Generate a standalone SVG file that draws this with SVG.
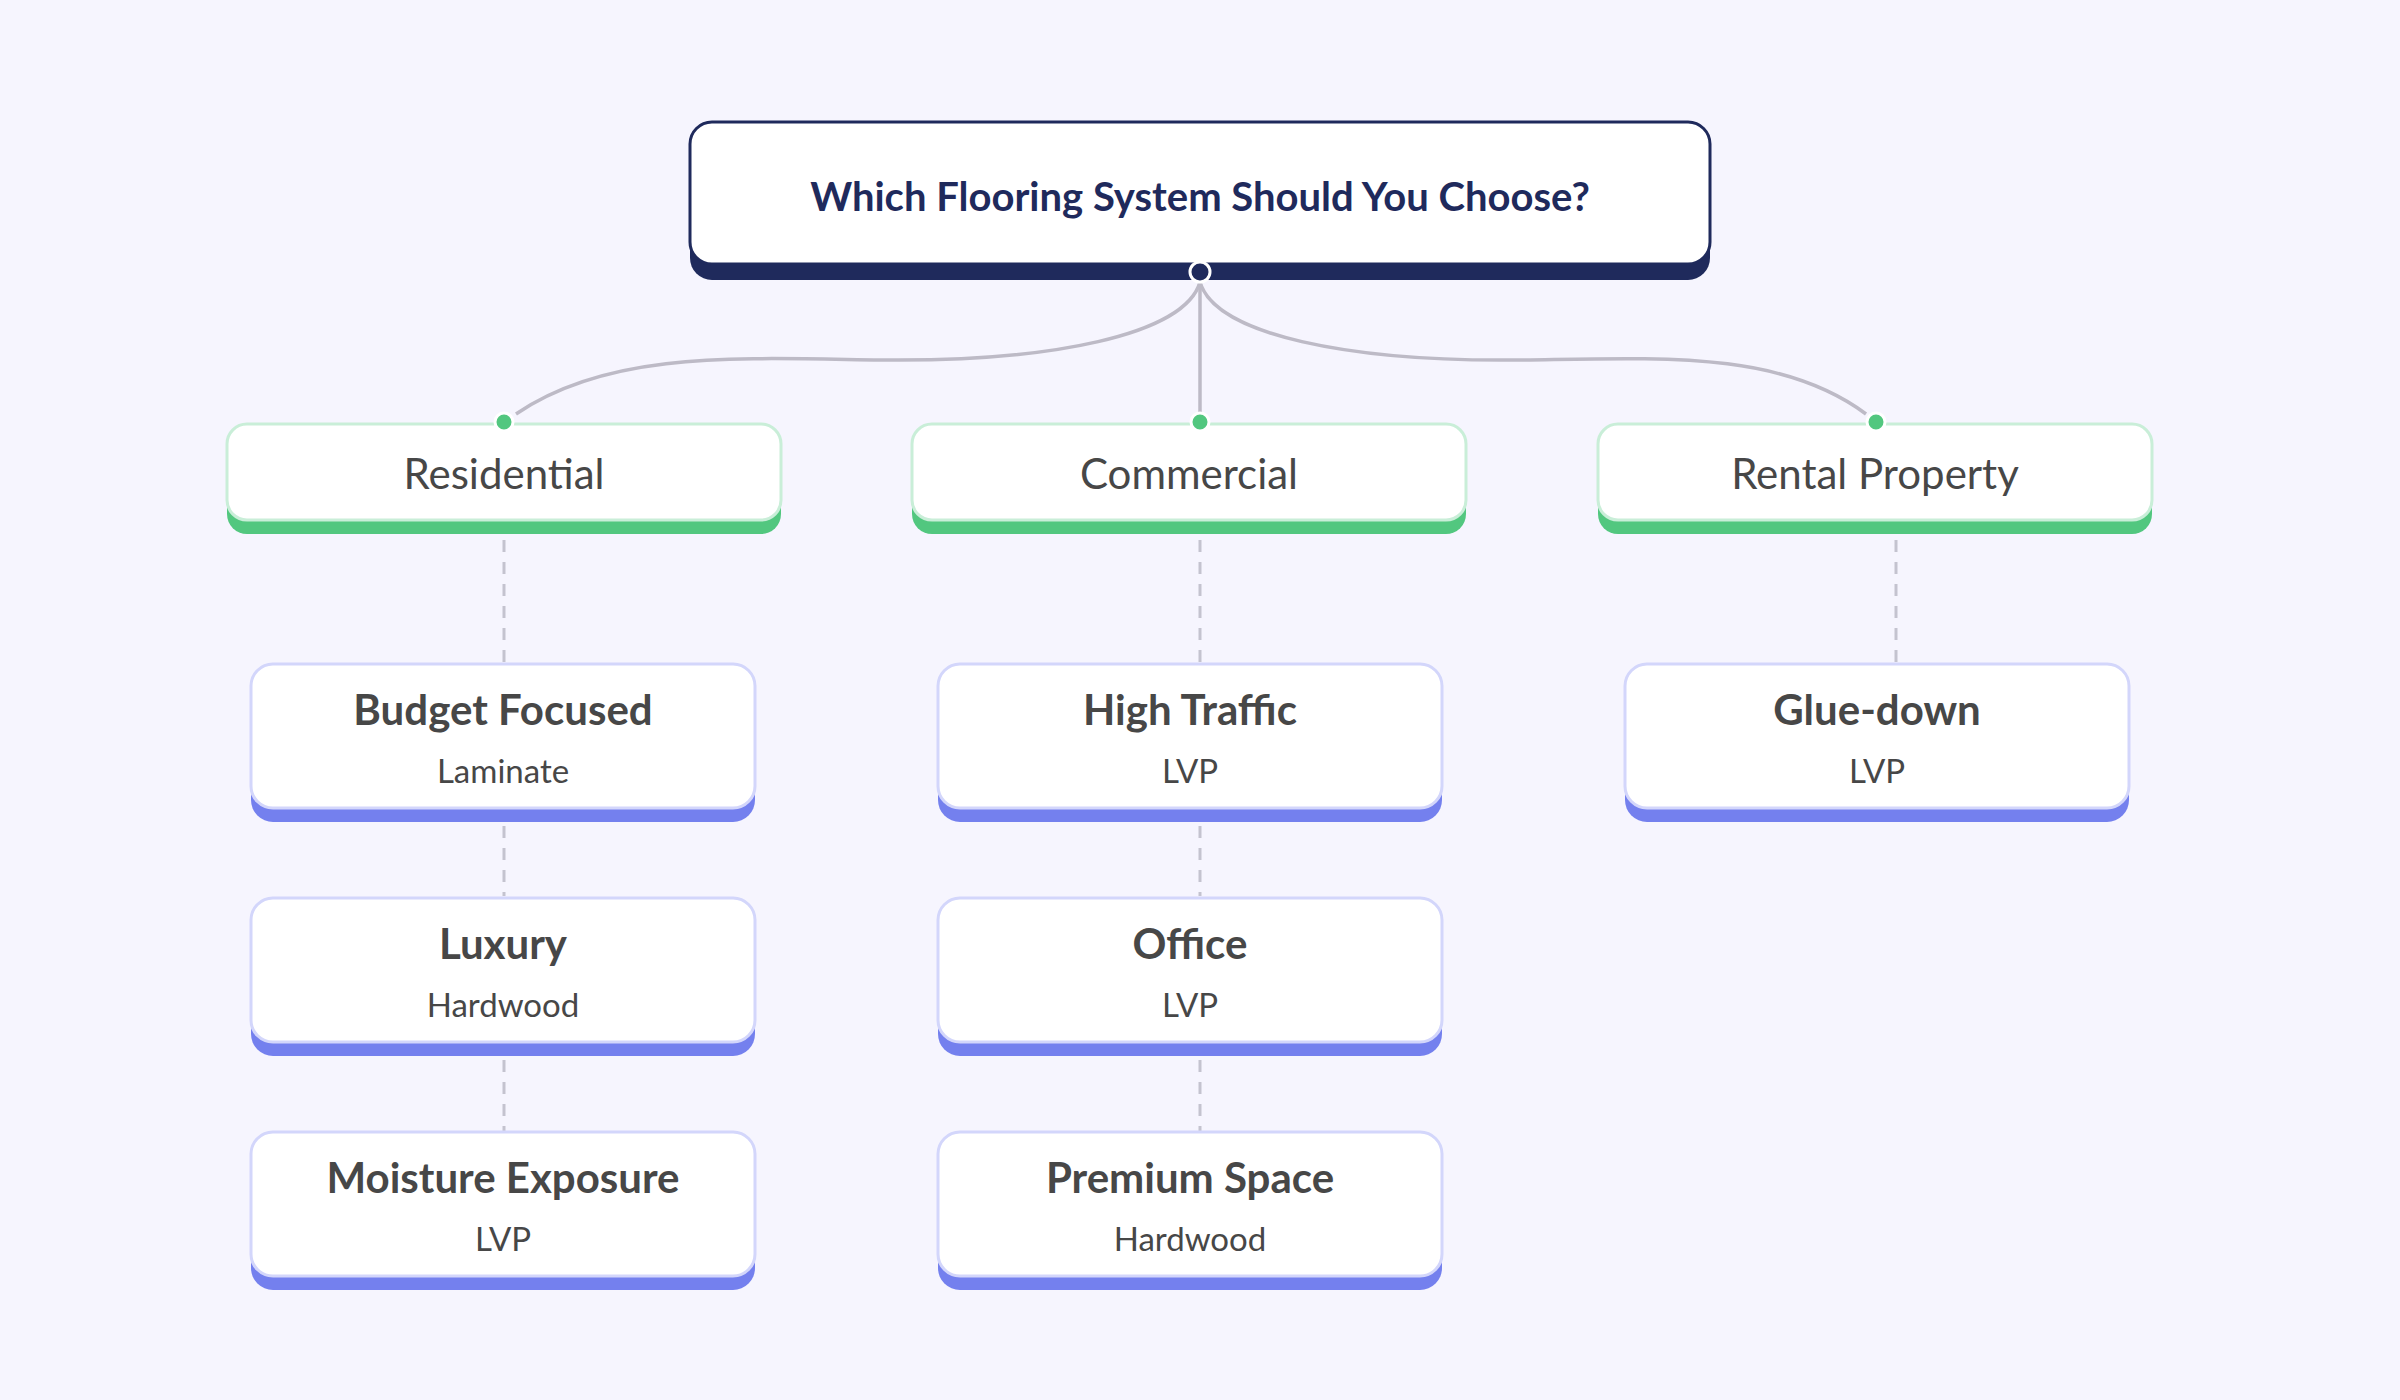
<svg xmlns="http://www.w3.org/2000/svg" width="2400" height="1400" viewBox="0 0 2400 1400">
<defs><style>
text{font-family:Lato,"Noto Sans",sans-serif;text-anchor:middle;dominant-baseline:central}
.cat-b{fill:#52c77f}.cat-f{fill:#fff;stroke:#c9eed8;stroke-width:3}
.leaf-b{fill:#7480ee}.leaf-f{fill:#fff;stroke:#d3d6fb;stroke-width:3}
.ct{font-size:42px;fill:#474747}
.lt{font-size:42px;font-weight:700;fill:#474747}
.ls{font-size:33px;fill:#474747}
.dash{stroke:#c4c3cf;stroke-width:3;stroke-dasharray:12 10;fill:none}
.curve{stroke:#bdbac6;stroke-width:3.5;fill:none}
</style></defs>
<rect width="2400" height="1400" fill="#f6f5fe"/>
<g id="connectors">
<path class="curve" d="M1200 282 C1185 335 1050 362 880 360 C740 358 610 350 516 414"/>
<path class="curve" d="M1200 282 C1215 335 1350 362 1520 360 C1660 358 1780 350 1866 414"/>
<line class="curve" x1="1200" y1="282" x2="1200" y2="414"/>
<line class="dash" x1="504" y1="540" x2="504" y2="662"/>
<line class="dash" x1="504" y1="826" x2="504" y2="896"/>
<line class="dash" x1="504" y1="1060" x2="504" y2="1131"/>
<line class="dash" x1="1200" y1="540" x2="1200" y2="662"/>
<line class="dash" x1="1200" y1="826" x2="1200" y2="896"/>
<line class="dash" x1="1200" y1="1060" x2="1200" y2="1131"/>
<line class="dash" x1="1896" y1="540" x2="1896" y2="662"/>
</g>
<g id="root">
<rect x="690" y="124" width="1020" height="156" rx="22" fill="#1f2a5c"/>
<rect x="690" y="122" width="1020" height="142" rx="22" fill="#fff" stroke="#1f2a5c" stroke-width="3"/>
<text x="1200" y="196" style="font-size:40px;font-weight:700;fill:#1f2a5c">Which Flooring System Should You Choose?</text>
<circle cx="1200" cy="272" r="10" fill="#1f2a5c" stroke="#fff" stroke-width="3"/>
</g>
<g id="cat-residential">
<rect class="cat-b" x="227" y="426" width="554" height="108" rx="20"/>
<rect class="cat-f" x="227" y="424" width="554" height="96" rx="20"/>
<text class="ct" x="504" y="473">Residential</text>
<circle cx="504" cy="422" r="9" fill="#52c77f" stroke="#fff" stroke-width="3"/>
</g>
<g id="cat-commercial">
<rect class="cat-b" x="912" y="426" width="554" height="108" rx="20"/>
<rect class="cat-f" x="912" y="424" width="554" height="96" rx="20"/>
<text class="ct" x="1189" y="473">Commercial</text>
<circle cx="1200" cy="422" r="9" fill="#52c77f" stroke="#fff" stroke-width="3"/>
</g>
<g id="cat-rental">
<rect class="cat-b" x="1598" y="426" width="554" height="108" rx="20"/>
<rect class="cat-f" x="1598" y="424" width="554" height="96" rx="20"/>
<text class="ct" x="1875" y="473">Rental Property</text>
<circle cx="1876" cy="422" r="9" fill="#52c77f" stroke="#fff" stroke-width="3"/>
</g>
<g id="budget"><rect class="leaf-b" x="251" y="666" width="504" height="156" rx="22"/><rect class="leaf-f" x="251" y="664" width="504" height="144" rx="22"/><text class="lt" x="503" y="709">Budget Focused</text><text class="ls" x="503" y="770">Laminate</text></g>
<g id="luxury"><rect class="leaf-b" x="251" y="900" width="504" height="156" rx="22"/><rect class="leaf-f" x="251" y="898" width="504" height="144" rx="22"/><text class="lt" x="503" y="943">Luxury</text><text class="ls" x="503" y="1004">Hardwood</text></g>
<g id="moisture"><rect class="leaf-b" x="251" y="1134" width="504" height="156" rx="22"/><rect class="leaf-f" x="251" y="1132" width="504" height="144" rx="22"/><text class="lt" x="503" y="1177">Moisture Exposure</text><text class="ls" x="503" y="1238">LVP</text></g>
<g id="hightraffic"><rect class="leaf-b" x="938" y="666" width="504" height="156" rx="22"/><rect class="leaf-f" x="938" y="664" width="504" height="144" rx="22"/><text class="lt" x="1190" y="709">High Traffic</text><text class="ls" x="1190" y="770">LVP</text></g>
<g id="office"><rect class="leaf-b" x="938" y="900" width="504" height="156" rx="22"/><rect class="leaf-f" x="938" y="898" width="504" height="144" rx="22"/><text class="lt" x="1190" y="943">Office</text><text class="ls" x="1190" y="1004">LVP</text></g>
<g id="premium"><rect class="leaf-b" x="938" y="1134" width="504" height="156" rx="22"/><rect class="leaf-f" x="938" y="1132" width="504" height="144" rx="22"/><text class="lt" x="1190" y="1177">Premium Space</text><text class="ls" x="1190" y="1238">Hardwood</text></g>
<g id="gluedown"><rect class="leaf-b" x="1625" y="666" width="504" height="156" rx="22"/><rect class="leaf-f" x="1625" y="664" width="504" height="144" rx="22"/><text class="lt" x="1877" y="709">Glue-down</text><text class="ls" x="1877" y="770">LVP</text></g>
</svg>
